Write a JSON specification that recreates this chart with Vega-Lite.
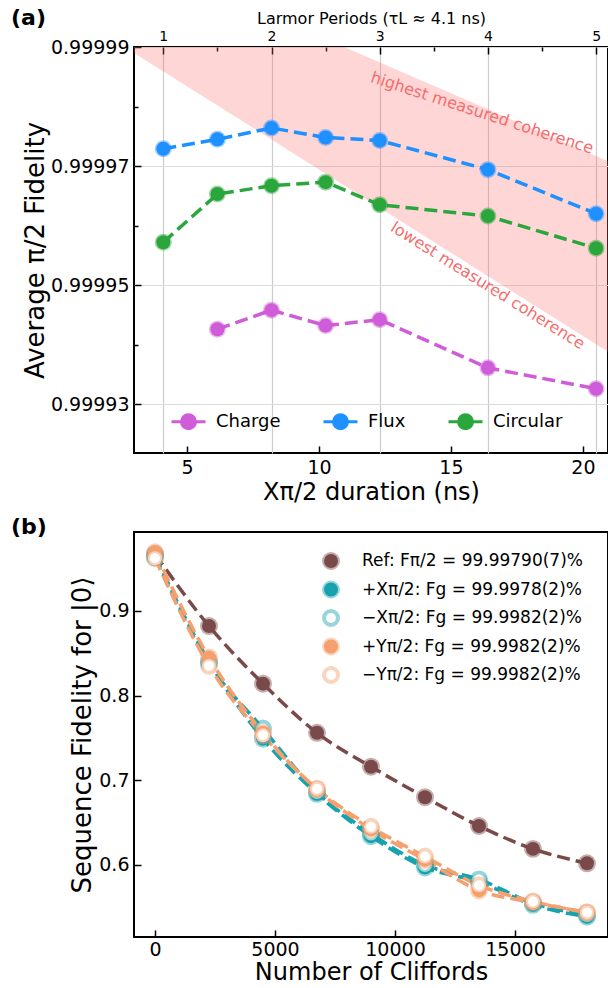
{
  "$schema": "https://vega.github.io/schema/vega-lite/v6.json",
  "padding": {"left": 10, "top": 6, "right": 0, "bottom": 0},
  "spacing": 10,
  "config": {
    "font": "DejaVu Sans",
    "view": {"stroke": "black", "strokeWidth": 2},
    "axis": {
      "domain": false, "grid": false,
      "labelFont": "DejaVu Sans", "labelFontSize": 19, "labelColor": "black", "labelFlush": false, "labelOverlap": false,
      "titleFont": "DejaVu Sans", "titleFontSize": 26, "titleFontWeight": "normal", "titleColor": "black",
      "tickColor": "black", "tickWidth": 1.5, "tickSize": -7, "labelPadding": 11, "titlePadding": 3
    },
    "legend": {"labelLimit": 0},
    "title": {"font": "DejaVu Sans"}
  },
  "resolve": {"scale": {"fill": "independent", "stroke": "independent"}, "legend": {"fill": "independent", "stroke": "independent"}},
  "datasets": {
    "band": [
      {"t": 2.99, "hi": 1.0000053, "lo": 0.999989},
      {"t": 20.95, "hi": 0.9999708, "lo": 0.9999388}
    ],
    "notes": [
      {"t": 16.18, "F": 0.9999789, "label": "highest measured coherence", "angle": 18},
      {"t": 16.39, "F": 0.9999499, "label": "lowest measured coherence", "angle": 32}
    ],
    "fid": [
      {"series": "Charge", "t": 6.15, "F": 0.9999426},
      {"series": "Charge", "t": 8.2, "F": 0.9999458},
      {"series": "Charge", "t": 10.25, "F": 0.9999432},
      {"series": "Charge", "t": 12.3, "F": 0.9999442},
      {"series": "Charge", "t": 16.4, "F": 0.9999361},
      {"series": "Charge", "t": 20.5, "F": 0.9999326},
      {"series": "Flux", "t": 4.1, "F": 0.9999729},
      {"series": "Flux", "t": 6.15, "F": 0.9999745},
      {"series": "Flux", "t": 8.2, "F": 0.9999764},
      {"series": "Flux", "t": 10.25, "F": 0.9999748},
      {"series": "Flux", "t": 12.3, "F": 0.9999743},
      {"series": "Flux", "t": 16.4, "F": 0.9999694},
      {"series": "Flux", "t": 20.5, "F": 0.999962},
      {"series": "Circular", "t": 4.1, "F": 0.9999572},
      {"series": "Circular", "t": 6.15, "F": 0.9999653},
      {"series": "Circular", "t": 8.2, "F": 0.9999667},
      {"series": "Circular", "t": 10.25, "F": 0.9999673},
      {"series": "Circular", "t": 12.3, "F": 0.9999635},
      {"series": "Circular", "t": 16.4, "F": 0.9999616},
      {"series": "Circular", "t": 20.5, "F": 0.9999562}
    ],
    "rb": [
      {"s": "Ref", "n": 0, "p": 0.967}, {"s": "Ref", "n": 2250, "p": 0.882}, {"s": "Ref", "n": 4500, "p": 0.814},
      {"s": "Ref", "n": 6750, "p": 0.756}, {"s": "Ref", "n": 9000, "p": 0.716}, {"s": "Ref", "n": 11250, "p": 0.68},
      {"s": "Ref", "n": 13500, "p": 0.646}, {"s": "Ref", "n": 15750, "p": 0.619}, {"s": "Ref", "n": 18000, "p": 0.602},
      {"s": "+X", "n": 0, "p": 0.965}, {"s": "+X", "n": 2250, "p": 0.84}, {"s": "+X", "n": 4500, "p": 0.749},
      {"s": "+X", "n": 6750, "p": 0.684}, {"s": "+X", "n": 9000, "p": 0.634}, {"s": "+X", "n": 11250, "p": 0.597},
      {"s": "+X", "n": 13500, "p": 0.58}, {"s": "+X", "n": 15750, "p": 0.553}, {"s": "+X", "n": 18000, "p": 0.539},
      {"s": "-X", "n": 0, "p": 0.963}, {"s": "-X", "n": 2250, "p": 0.838}, {"s": "-X", "n": 4500, "p": 0.761},
      {"s": "-X", "n": 6750, "p": 0.686}, {"s": "-X", "n": 9000, "p": 0.637}, {"s": "-X", "n": 11250, "p": 0.6},
      {"s": "-X", "n": 13500, "p": 0.583}, {"s": "-X", "n": 15750, "p": 0.555}, {"s": "-X", "n": 18000, "p": 0.541},
      {"s": "+Y", "n": 0, "p": 0.969}, {"s": "+Y", "n": 2250, "p": 0.845}, {"s": "+Y", "n": 4500, "p": 0.756},
      {"s": "+Y", "n": 6750, "p": 0.689}, {"s": "+Y", "n": 9000, "p": 0.642}, {"s": "+Y", "n": 11250, "p": 0.606},
      {"s": "+Y", "n": 13500, "p": 0.57}, {"s": "+Y", "n": 15750, "p": 0.556}, {"s": "+Y", "n": 18000, "p": 0.544},
      {"s": "-Y", "n": 0, "p": 0.962}, {"s": "-Y", "n": 2250, "p": 0.835}, {"s": "-Y", "n": 4500, "p": 0.753},
      {"s": "-Y", "n": 6750, "p": 0.69}, {"s": "-Y", "n": 9000, "p": 0.645}, {"s": "-Y", "n": 11250, "p": 0.61},
      {"s": "-Y", "n": 13500, "p": 0.576}, {"s": "-Y", "n": 15750, "p": 0.557}, {"s": "-Y", "n": 18000, "p": 0.544}
    ]
  },
  "vconcat": [
    {
      "width": 474, "height": 406,
      "title": {"text": "(a)", "anchor": "start", "frame": "group", "fontSize": 22, "fontWeight": "bold", "color": "black", "dx": -123, "dy": 20, "offset": 0},
      "resolve": {"axis": {"x": "independent", "y": "independent"}},
      "layer": [
        {
          "data": {"name": "band"},
          "mark": {"type": "area", "clip": true, "color": "#ff6b6b", "opacity": 0.28},
          "encoding": {
            "x": {"field": "t", "type": "quantitative", "scale": {"domain": [2.99, 20.95], "nice": false, "zero": false},
                  "axis": {"orient": "top", "values": [6.15, 10.25, 14.35, 18.45], "labels": false, "tickSize": -4, "title": null}},
            "y": {"field": "hi", "type": "quantitative", "scale": {"domain": [0.9999218, 0.99999], "nice": false, "zero": false},
                  "axis": {"orient": "left", "values": [0.99994, 0.99996, 0.99998], "labels": false, "tickSize": -4, "title": null}},
            "y2": {"field": "lo"}
          }
        },
        {
          "data": {"name": "fid"},
          "mark": {"type": "line", "strokeWidth": 3.5, "strokeDash": [13, 6]},
          "encoding": {
            "x": {"field": "t", "type": "quantitative", "scale": {"domain": [2.99, 20.95], "nice": false, "zero": false},
                  "axis": {"orient": "bottom", "values": [5, 10, 15, 20], "title": "Xπ/2 duration (ns)", "titleFontSize": 24, "labelPadding": 12}},
            "y": {"field": "F", "type": "quantitative", "scale": {"domain": [0.9999218, 0.99999], "nice": false, "zero": false},
                  "axis": {"orient": "left", "values": [0.99993, 0.99995, 0.99997, 0.99999], "format": ".5f", "grid": true, "gridColor": "#dcdcdc", "gridWidth": 1.2, "title": "Average π/2 Fidelity", "titlePadding": 2, "labelPadding": 12}},
            "stroke": {"field": "series", "type": "nominal", "scale": {"domain": ["Charge", "Flux", "Circular"], "range": ["#cf5cd8", "#1e90ff", "#2aa63c"]},
                     "legend": {"title": null, "orient": "none", "legendX": 45, "legendY": 365, "direction": "horizontal", "columns": 3,
                                "symbolType": "M-2.125,0L2.125,0M0.875,0A0.875,0.875,0,1,1,-0.875,0A0.875,0.875,0,1,1,0.875,0Z",
                                "symbolSize": 256, "symbolStrokeWidth": 3, "labelFontSize": 18, "labelFont": "DejaVu Sans", "labelColor": "black",
                                "labelOffset": 18, "columnPadding": 36, "padding": 0,
                                "encode": {"symbols": {"update": {"strokeOpacity": {"value": 1}, "opacity": {"value": 1}}}}}}
          }
        },
        {
          "data": {"name": "fid"},
          "mark": {"type": "point", "filled": true, "size": 196, "strokeWidth": 3, "strokeOpacity": 0.45, "opacity": 1, "fillOpacity": 1},
          "encoding": {
            "x": {"field": "t", "type": "quantitative", "scale": {"domain": [2.99, 20.95], "nice": false, "zero": false},
                  "axis": {"orient": "top", "values": [4.1, 8.2, 12.3, 16.4, 20.5], "labelExpr": "round(datum.value/4.1)", "grid": true, "gridColor": "#cccccc", "gridWidth": 1.2,
                           "labelFontSize": 14, "labelPadding": 11, "title": "Larmor Periods (τL ≈ 4.1 ns)", "titleFontSize": 16, "titlePadding": 3}},
            "y": {"field": "F", "type": "quantitative", "scale": {"domain": [0.9999218, 0.99999], "nice": false, "zero": false}, "axis": null},
            "fill": {"field": "series", "type": "nominal", "scale": {"domain": ["Charge", "Flux", "Circular"], "range": ["#cf5cd8", "#1e90ff", "#2aa63c"]},
                     "legend": {"title": null, "orient": "none", "legendX": 45, "legendY": 365, "direction": "horizontal", "columns": 3,
                                "symbolType": "M-2.125,0L2.125,0M0.875,0A0.875,0.875,0,1,1,-0.875,0A0.875,0.875,0,1,1,0.875,0Z",
                                "symbolSize": 256, "symbolStrokeWidth": 3, "labelFontSize": 18, "labelFont": "DejaVu Sans", "labelColor": "black",
                                "labelOffset": 18, "columnPadding": 36, "padding": 0,
                                "encode": {"symbols": {"update": {"strokeOpacity": {"value": 1}, "opacity": {"value": 1}}}}}},
            "stroke": {"field": "series", "type": "nominal",
                     "legend": {"title": null, "orient": "none", "legendX": 45, "legendY": 365, "direction": "horizontal", "columns": 3,
                                "symbolType": "M-2.125,0L2.125,0M0.875,0A0.875,0.875,0,1,1,-0.875,0A0.875,0.875,0,1,1,0.875,0Z",
                                "symbolSize": 256, "symbolStrokeWidth": 3, "labelFontSize": 18, "labelFont": "DejaVu Sans", "labelColor": "black",
                                "labelOffset": 18, "columnPadding": 36, "padding": 0,
                                "encode": {"symbols": {"update": {"strokeOpacity": {"value": 1}, "opacity": {"value": 1}}}}}}
          }
        },
        {
          "data": {"name": "notes"},
          "mark": {"type": "text", "fontSize": 16, "font": "DejaVu Sans", "color": "#f46c6c", "align": "center", "baseline": "middle"},
          "encoding": {
            "x": {"field": "t", "type": "quantitative", "scale": {"domain": [2.99, 20.95], "nice": false, "zero": false}, "axis": null},
            "y": {"field": "F", "type": "quantitative", "scale": {"domain": [0.9999218, 0.99999], "nice": false, "zero": false}, "axis": null},
            "text": {"field": "label"},
            "angle": {"field": "angle", "type": "quantitative", "scale": null}
          }
        }
      ]
    },
    {
      "width": 474, "height": 405,
      "title": {"text": "(b)", "anchor": "start", "frame": "group", "fontSize": 22, "fontWeight": "bold", "color": "black", "dx": -123, "dy": 7, "offset": 0},
      "layer": [
        {
          "data": {"name": "rb"},
          "mark": {"type": "line", "strokeWidth": 3.5, "strokeDash": [13, 6], "interpolate": "monotone"},
          "encoding": {
            "x": {"field": "n", "type": "quantitative", "scale": {"domain": [-875, 18875], "nice": false, "zero": false},
                  "axis": {"values": [0, 5000, 10000, 15000], "format": "d", "title": "Number of Cliffords", "titleFontSize": 24, "labelPadding": 10, "titlePadding": 1}},
            "y": {"field": "p", "type": "quantitative", "scale": {"domain": [0.515, 0.993], "nice": false, "zero": false},
                  "axis": {"values": [0.6, 0.7, 0.8, 0.9], "format": ".1f", "title": "Sequence Fidelity for |0⟩", "titlePadding": 3, "labelPadding": 12}},
            "stroke": {"field": "s", "type": "nominal", "scale": {"domain": ["Ref", "+X", "-X", "+Y", "-Y"], "range": ["#7a4a4a", "#17a2ad", "#17a2ad", "#f5a06e", "#f5a06e"]},
                     "legend": {"title": null, "orient": "none", "legendX": 188, "legendY": 20, "symbolType": "circle", "symbolSize": 195, "symbolStrokeWidth": 4,
                                "labelFontSize": 17, "labelFont": "DejaVu Sans", "labelColor": "black", "labelOffset": 22, "rowPadding": -1.5, "padding": 0, "labelLimit": 0,
                                "labelExpr": "datum.label == 'Ref' ? 'Ref: Fπ/2 = 99.99790(7)%' : datum.label == '+X' ? '+Xπ/2: Fg = 99.9978(2)%' : datum.label == '-X' ? '−Xπ/2: Fg = 99.9982(2)%' : datum.label == '+Y' ? '+Yπ/2: Fg = 99.9982(2)%' : '−Yπ/2: Fg = 99.9982(2)%'",
                                "encode": {"symbols": {"update": {"strokeOpacity": {"value": 0.45}, "opacity": {"value": 1}}}}}}
          }
        },
        {
          "data": {"name": "rb"},
          "mark": {"type": "point", "filled": true, "size": 195, "strokeWidth": 4, "strokeOpacity": 0.45, "opacity": 1, "fillOpacity": 1},
          "encoding": {
            "x": {"field": "n", "type": "quantitative", "scale": {"domain": [-875, 18875], "nice": false, "zero": false}},
            "y": {"field": "p", "type": "quantitative", "scale": {"domain": [0.515, 0.993], "nice": false, "zero": false}},
            "fill": {"field": "s", "type": "nominal", "scale": {"domain": ["Ref", "+X", "-X", "+Y", "-Y"], "range": ["#7a4a4a", "#17a2ad", "#ffffff", "#f5a06e", "#ffffff"]},
                     "legend": {"title": null, "orient": "none", "legendX": 188, "legendY": 20, "symbolType": "circle", "symbolSize": 195, "symbolStrokeWidth": 4,
                                "labelFontSize": 17, "labelFont": "DejaVu Sans", "labelColor": "black", "labelOffset": 22, "rowPadding": -1.5, "padding": 0, "labelLimit": 0,
                                "labelExpr": "datum.label == 'Ref' ? 'Ref: Fπ/2 = 99.99790(7)%' : datum.label == '+X' ? '+Xπ/2: Fg = 99.9978(2)%' : datum.label == '-X' ? '−Xπ/2: Fg = 99.9982(2)%' : datum.label == '+Y' ? '+Yπ/2: Fg = 99.9982(2)%' : '−Yπ/2: Fg = 99.9982(2)%'",
                                "encode": {"symbols": {"update": {"strokeOpacity": {"value": 0.45}, "opacity": {"value": 1}}}}}},
            "stroke": {"field": "s", "type": "nominal",
                     "legend": {"title": null, "orient": "none", "legendX": 188, "legendY": 20, "symbolType": "circle", "symbolSize": 195, "symbolStrokeWidth": 4,
                                "labelFontSize": 17, "labelFont": "DejaVu Sans", "labelColor": "black", "labelOffset": 22, "rowPadding": -1.5, "padding": 0, "labelLimit": 0,
                                "labelExpr": "datum.label == 'Ref' ? 'Ref: Fπ/2 = 99.99790(7)%' : datum.label == '+X' ? '+Xπ/2: Fg = 99.9978(2)%' : datum.label == '-X' ? '−Xπ/2: Fg = 99.9982(2)%' : datum.label == '+Y' ? '+Yπ/2: Fg = 99.9982(2)%' : '−Yπ/2: Fg = 99.9982(2)%'",
                                "encode": {"symbols": {"update": {"strokeOpacity": {"value": 0.45}, "opacity": {"value": 1}}}}}}
          }
        }
      ]
    }
  ]
}
